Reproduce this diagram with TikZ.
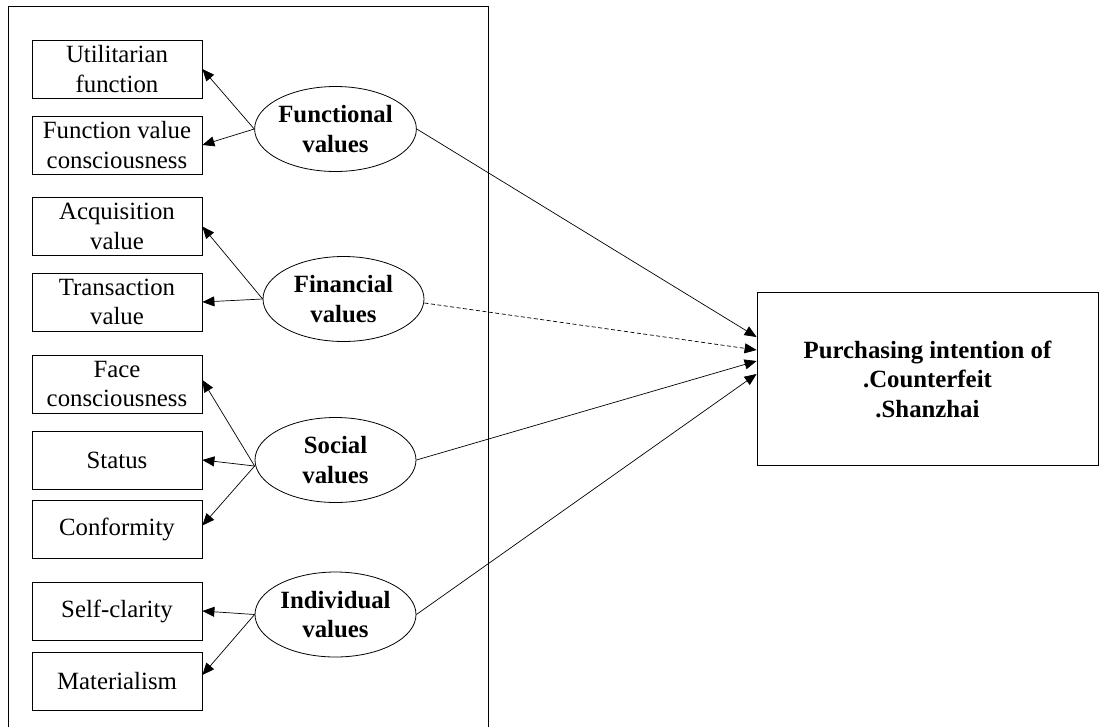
\documentclass[tikz,border=0pt]{standalone}
\usepackage{fontspec}
\setmainfont{Liberation Serif}
\usetikzlibrary{shapes.geometric,arrows.meta,calc}
\begin{document}
\begin{tikzpicture}[x=1pt,y=-1pt,
  every node/.style={font=\fontsize{24.8}{29.5}\selectfont},
  itembox/.style={draw, line width=0.8pt, rectangle, minimum width=170pt, minimum height=58pt, inner sep=0pt, align=center},
  valell/.style={draw, line width=0.8pt, ellipse, minimum width=161pt, minimum height=85pt, inner sep=0pt, align=center, font=\fontsize{24.8}{29.5}\selectfont\bfseries},
  arr/.style={line width=0.7pt, -{Triangle[length=12pt,width=10pt]}},
  darr/.style={arr, dashed, dash pattern=on 4pt off 2.5pt}
]
\useasboundingbox (0,0) rectangle (1102,726);
\draw[line width=0.8pt] (8,728) -- (8,6) -- (488,6) -- (488,728);

\node[itembox] (uf) at (117,69) {Utilitarian\\function};
\node[itembox] (fv) at (117,145) {Function value\\consciousness};
\node[itembox] (aq) at (117,226.5) {Acquisition\\value};
\node[itembox] (tr) at (117,302) {Transaction\\value};
\node[itembox] (fc) at (117,384) {Face\\consciousness};
\node[itembox] (st) at (117,460) {Status};
\node[itembox] (cf) at (117,529.5) {Conformity};
\node[itembox] (sc) at (117,611) {Self-clarity};
\node[itembox] (ma) at (117,681) {Materialism};

\node[valell] (fun) at (335.5,129) {Functional\\values};
\node[valell] (fin) at (343.5,299) {Financial\\values};
\node[valell] (soc) at (335.5,460) {Social\\values};
\node[valell] (ind) at (335.5,614.5) {Individual\\values};

\node[draw, line width=0.8pt, rectangle, minimum width=341pt, minimum height=173pt, inner sep=0pt, align=center, font=\fontsize{24.8}{29.5}\selectfont\bfseries] (pi) at (927.5,379) {Purchasing intention of\\.Counterfeit\\.Shanzhai};

\draw[arr] (fun.west) -- (uf.east);
\draw[arr] (fun.west) -- (fv.east);
\draw[arr] (fin.west) -- (aq.east);
\draw[arr] (fin.west) -- (tr.east);
\draw[arr] ([yshift=-6pt]soc.west) -- ([yshift=4pt]fc.east);
\draw[arr] ([yshift=-6pt]soc.west) -- (st.east);
\draw[arr] ([yshift=-6pt]soc.west) -- ([yshift=4pt]cf.east);
\draw[arr] (ind.west) -- (sc.east);
\draw[arr] (ind.west) -- ([yshift=6pt]ma.east);

\draw[arr] (fun.east) -- ([yshift=42pt]pi.west);
\draw[darr] ([yshift=-4pt]fin.east) -- ([yshift=29pt]pi.west);
\draw[arr] (soc.east) -- ([yshift=18pt]pi.west);
\draw[arr] (ind.east) -- ([yshift=5pt]pi.west);
\end{tikzpicture}
\end{document}
